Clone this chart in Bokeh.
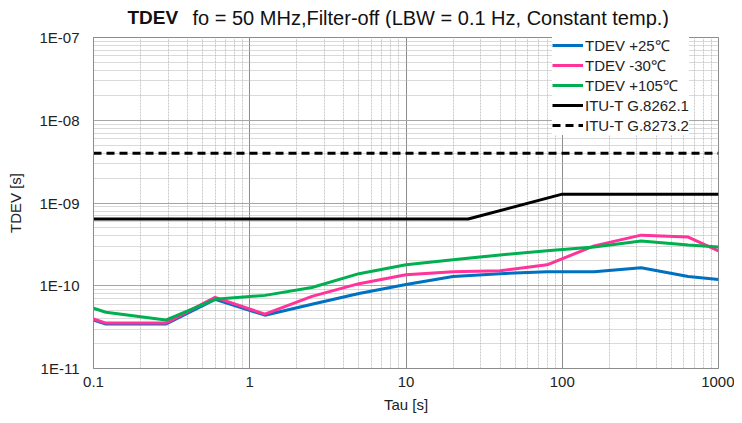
from bokeh.plotting import figure
from bokeh.layouts import column
from bokeh.models import (FixedTicker, CustomJSTickFormatter, Legend, LegendItem, Range1d)
from bokeh.core.properties import value
from bokeh.embed import file_html
from bokeh.resources import INLINE

# ---- data ----
tau = [0.1, 0.12, 0.29, 0.6, 1.25, 2.5, 5, 10, 20, 40, 80, 160, 320, 640, 1000]
tdev_p25 = [3.85e-11, 3.44e-11, 3.44e-11, 6.85e-11, 4.41e-11, 5.97e-11, 8.07e-11, 1.035e-10,
            1.29e-10, 1.40e-10, 1.48e-10, 1.48e-10, 1.65e-10, 1.29e-10, 1.19e-10]
tdev_m30 = [3.96e-11, 3.54e-11, 3.54e-11, 7.24e-11, 4.54e-11, 7.45e-11, 1.06e-10, 1.36e-10,
            1.48e-10, 1.52e-10, 1.79e-10, 3.03e-10, 4.09e-10, 3.87e-10, 2.64e-10]
tdev_p105 = [5.35e-11, 4.79e-11, 3.85e-11, 6.85e-11, 7.65e-11, 9.53e-11, 1.40e-10, 1.79e-10,
             2.06e-10, 2.36e-10, 2.64e-10, 2.94e-10, 3.47e-10, 3.11e-10, 2.94e-10]
itu_8262_tau = [0.1, 25, 100, 1000]
itu_8262_val = [0.64e-9, 0.64e-9, 1.28e-9, 1.28e-9]
itu_8273_tau = [0.1, 1000]
itu_8273_val = [4e-9, 4e-9]

x_major = [0.1, 1, 10, 100, 1000]
y_major = [1e-11, 1e-10, 1e-9, 1e-8, 1e-7]

series_names = ["TDEV +25\u2103", "TDEV -30\u2103", "TDEV +105\u2103",
                "ITU-T G.8262.1", "ITU-T G.8273.2"]
title_bold = "TDEV"
title_rest = "fo = 50 MHz,Filter-off (LBW = 0.1 Hz, Constant temp.)"

FONT = "Liberation Sans"
W = 734
TITLE_H = 28
MAIN_H = 387
FRAME_L, FRAME_R, FRAME_T, FRAME_B = 93, 718, 37, 372

x_minor = [d * k for d in x_major[:-1] for k in range(2, 10)]
y_minor = [d * k for d in y_major[:-1] for k in range(2, 10)]

# ---- title strip (its frame is aligned with the main frame by the column layout) ----
t = figure(title=None, width=W, height=TITLE_H, x_range=Range1d(FRAME_L, FRAME_R),
           y_range=Range1d(TITLE_H, 0),
           output_backend="svg", toolbar_location=None, min_border=0)
t.axis.visible = False
t.grid.visible = False
t.outline_line_color = None
t.text(x=[127], y=[17], text=[title_bold], text_font=value(FONT), text_font_size="19px",
       text_font_style="bold", text_baseline="alphabetic", text_align="left",
       text_color="#111111")
t.text(x=[192], y=[17], text=[title_rest], text_font=value(FONT), text_font_size="20px",
       text_baseline="alphabetic", text_align="left", text_color="#111111")

# ---- main plot ----
p = figure(title=None, width=W, height=MAIN_H, x_axis_type="log", y_axis_type="log",
           x_range=(0.1, 1000), y_range=(1e-11, 1e-7),
           output_backend="svg", toolbar_location=None,
           min_border_left=FRAME_L, min_border_right=W - FRAME_R,
           min_border_top=FRAME_T - TITLE_H,
           min_border_bottom=MAIN_H - (FRAME_B - TITLE_H))
p.outline_line_color = "#8c8c8c"
p.outline_line_width = 1

for ax in (p.xaxis[0], p.yaxis[0]):
    ax.major_tick_out = 0
    ax.major_tick_in = 0
    ax.minor_tick_out = 0
    ax.minor_tick_in = 0
    ax.axis_line_color = "#8c8c8c"
    ax.major_label_text_font = FONT
    ax.major_label_text_font_size = "15px"
    ax.major_label_text_color = "#222222"
    ax.axis_label_text_font = FONT
    ax.axis_label_text_font_size = "15px"
    ax.axis_label_text_font_style = "normal"
    ax.axis_label_text_color = "#222222"

p.xaxis.ticker = FixedTicker(ticks=x_major, minor_ticks=x_minor)
p.yaxis.ticker = FixedTicker(ticks=y_major, minor_ticks=y_minor)
p.xaxis.formatter = CustomJSTickFormatter(code="return String(Math.round(tick*10)/10);")
p.yaxis.formatter = CustomJSTickFormatter(code="""
const e = Math.round(Math.log10(tick));
return '1E' + (e < 0 ? '-' : '+') + String(Math.abs(e)).padStart(2, '0');
""")
p.xaxis.axis_label = "Tau [s]"
p.yaxis.axis_label = "TDEV [s]"
p.xaxis.major_label_standoff = 8
p.xaxis.axis_label_standoff = 6
p.yaxis.major_label_standoff = 14
p.yaxis.axis_label_standoff = 12

p.xgrid.grid_line_color = "#8c8c8c"
p.ygrid.grid_line_color = "#a6a6a6"
p.xgrid.minor_grid_line_color = "#c8c8c8"
p.ygrid.minor_grid_line_color = "#b4b4b4"
p.xgrid.minor_grid_line_dash = "2 1"
p.ygrid.minor_grid_line_dash = "1 1"

r1 = p.line(tau, tdev_p25, line_color="#0070C0", line_width=3)
r2 = p.line(tau, tdev_m30, line_color="#FF3399", line_width=3)
r3 = p.line(tau, tdev_p105, line_color="#00B050", line_width=3)
r4 = p.line(itu_8262_tau, itu_8262_val, line_color="black", line_width=3)
r5 = p.line(itu_8273_tau, itu_8273_val, line_color="black", line_width=3, line_dash="8 5")

legend = Legend(items=[LegendItem(label=n, renderers=[r]) for n, r in
                       zip(series_names, [r1, r2, r3, r4, r5])],
                location=(552 - FRAME_L, FRAME_B - 139), padding=0, margin=0, spacing=0,
                label_height=20, glyph_height=20, glyph_width=31, label_standoff=2,
                label_text_font=FONT, label_text_font_size="15px",
                label_text_color="#222222",
                border_line_color=None, background_fill_color="white",
                background_fill_alpha=1.0)
p.add_layout(legend)

layout = column(t, p, spacing=0)
open("out.html", "w").write(file_html(layout, INLINE))
